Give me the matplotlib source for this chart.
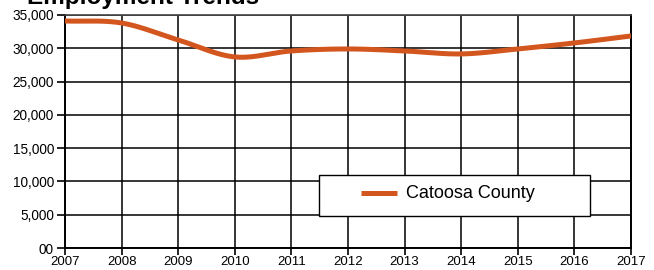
"""Employment trends line chart."""

import matplotlib

matplotlib.use("Agg")
import matplotlib.pyplot as plt
from matplotlib.patches import Rectangle
import numpy as np

plt.rcParams["font.family"] = ["Liberation Sans", "DejaVu Sans"]

years = [2007, 2008, 2009, 2010, 2011, 2012, 2013, 2014, 2015, 2016, 2017]
employment = [34100, 33800, 31250, 28700, 29600, 29900, 29600, 29150, 29900, 30800, 31850]
series_label = "Catoosa County"
title = "Employment Trends"
y_ticks = [0, 5000, 10000, 15000, 20000, 25000, 30000, 35000]
y_tick_labels = ["00", "5,000", "10,000", "15,000", "20,000", "25,000", "30,000", "35,000"]

LINE_COLOR = "#D4561F"


def smooth(x, y, per_seg=40):
    # Catmull-Rom style cubic Hermite for a smooth drawn curve
    x = np.asarray(x, float)
    y = np.asarray(y, float)
    m = np.gradient(y, x)
    xs, ys = [], []
    for i in range(len(x) - 1):
        h = x[i + 1] - x[i]
        t = np.linspace(0, 1, per_seg, endpoint=False)
        h00 = 2 * t**3 - 3 * t**2 + 1
        h10 = t**3 - 2 * t**2 + t
        h01 = -2 * t**3 + 3 * t**2
        h11 = t**3 - t**2
        xs.append(x[i] + t * h)
        ys.append(h00 * y[i] + h10 * h * m[i] + h01 * y[i + 1] + h11 * h * m[i + 1])
    xs.append([x[-1]])
    ys.append([y[-1]])
    return np.concatenate(xs), np.concatenate(ys)


fig = plt.figure(figsize=(6.54, 2.70), dpi=100)
ax = fig.add_axes([65 / 654, 22 / 270, 566 / 654, 233 / 270])

sx, sy = smooth(years, employment)
ax.plot(sx, sy, color=LINE_COLOR, linewidth=3.6, solid_capstyle="butt", zorder=3)

ax.set_xlim(years[0], years[-1])
ax.set_ylim(0, 35000)
ax.set_xticks(years)
ax.set_xticklabels([str(y) for y in years])
ax.set_yticks(y_ticks)
ax.set_yticklabels(y_tick_labels)
ax.tick_params(axis="y", length=6, width=1.2, labelsize=9.8, pad=2, color="black")
ax.tick_params(axis="x", length=5, width=1.2, labelsize=9.5, pad=0.5, color="black")
ax.grid(True, color="black", linewidth=1.1, zorder=0)
ax.set_axisbelow(True)
for side in ("left", "bottom", "right"):
    ax.spines[side].set_linewidth(1.4)
    ax.spines[side].set_color("black")
ax.spines["top"].set_linewidth(1.2)
ax.spines["top"].set_color("#444444")

ax.add_patch(Rectangle((0.449, 0.137), 0.478, 0.176, transform=ax.transAxes,
                       facecolor="white", edgecolor="black", linewidth=1.0, zorder=4))
ax.plot([(361 - 65) / 566, (397 - 65) / 566], [0.236, 0.236], transform=ax.transAxes,
        color=LINE_COLOR, linewidth=3.6, solid_capstyle="butt", zorder=5)
ax.text((406 - 65) / 566, 0.236, series_label, transform=ax.transAxes,
        fontsize=13, va="center", ha="left", zorder=5)

fig.text(27 / 654, 1 - 4 / 270, title, fontsize=17.5, fontweight="bold", va="baseline", ha="left")

fig.savefig("out.png", dpi=100)
